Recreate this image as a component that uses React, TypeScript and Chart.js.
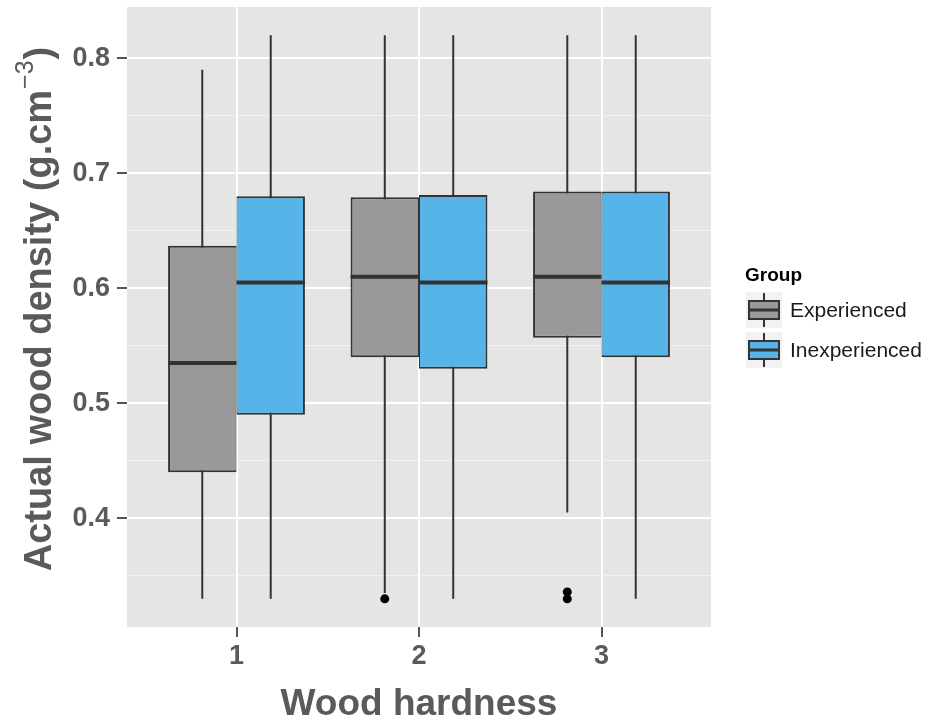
import React, { useEffect, useRef } from 'react';
import { Chart, registerables } from 'chart.js';

Chart.register(...registerables);

// ---------- data ----------
const categories = [1, 2, 3];
const groupNames = ['Experienced', 'Inexperienced'];
const groupColors = ['#999999', '#56B4E9'];

const expWhiskerLow = [0.33, 0.335, 0.405];
const expQ1 = [0.44, 0.54, 0.557];
const expMedian = [0.535, 0.61, 0.61];
const expQ3 = [0.637, 0.679, 0.684];
const expWhiskerHigh = [0.79, 0.82, 0.82];
const expOutliers = [[], [0.33], [0.336, 0.33]];

const inexpWhiskerLow = [0.33, 0.33, 0.33];
const inexpQ1 = [0.49, 0.53, 0.54];
const inexpMedian = [0.605, 0.605, 0.605];
const inexpQ3 = [0.68, 0.681, 0.684];
const inexpWhiskerHigh = [0.82, 0.82, 0.82];
const inexpOutliers: number[][] = [[], [], []];

const yMajorTicks = [0.4, 0.5, 0.6, 0.7, 0.8];
const yMinorTicks = [0.35, 0.45, 0.55, 0.65, 0.75];
const xTickLabels = ['1', '2', '3'];

const xTitle = 'Wood hardness';
const yTitleMain = 'Actual wood density (g.cm';
const yTitleSup = '\u22123';
const yTitleEnd = ')';
const legendTitle = 'Group';

// ---------- layout constants (ggplot-like) ----------
const BOX_WIDTH = 0.75; // dodge width
const DODGE = BOX_WIDTH / 4; // offset of each box centre from category
const FONT = '"Liberation Sans", Arial, Helvetica, sans-serif';
const TEXT_GREY = '#5a5a5a';
const LINE = '#333333';

const stats = [
  { lo: expWhiskerLow, q1: expQ1, med: expMedian, q3: expQ3, hi: expWhiskerHigh, out: expOutliers },
  { lo: inexpWhiskerLow, q1: inexpQ1, med: inexpMedian, q3: inexpQ3, hi: inexpWhiskerHigh, out: inexpOutliers },
];

const allValues = stats.flatMap((s) => [...s.lo, ...s.hi, ...s.out.flat()]);
const dataMin = Math.min(...allValues);
const dataMax = Math.max(...allValues);
const yPad = (dataMax - dataMin) * 0.05;
const yMin = dataMin - yPad;
const yMax = dataMax + yPad;
const xMin = Math.min(...categories) - 0.6;
const xMax = Math.max(...categories) + 0.6;

const isMajor = (v: number) => yMajorTicks.some((m) => Math.abs(m - v) < 1e-9);

function buildDatasets() {
  const ds: any[] = [];
  stats.forEach((s, g) => {
    const off = g === 0 ? -DODGE : DODGE;
    // whiskers
    ds.push({
      type: 'line',
      label: groupNames[g] + ' whiskers',
      data: categories.flatMap((c, i) => [
        { x: c + off, y: s.lo[i] },
        { x: c + off, y: s.hi[i] },
        { x: c + off, y: null },
      ]),
      borderColor: LINE,
      borderWidth: 2,
      pointRadius: 0,
      spanGaps: false,
      fill: false,
      order: 3,
    });
    // boxes
    ds.push({
      type: 'bar',
      label: groupNames[g],
      data: categories.map((c, i) => ({ x: c, y: [s.q1[i], s.q3[i]] })),
      backgroundColor: groupColors[g],
      borderColor: LINE,
      borderWidth: g === 0 ? { top: 2, bottom: 2, left: 2, right: 1 } : { top: 2, bottom: 2, left: 1, right: 2 },
      borderSkipped: false,
      categoryPercentage: BOX_WIDTH,
      barPercentage: 1,
      order: 2,
    });
    // medians
    ds.push({
      type: 'line',
      label: groupNames[g] + ' median',
      data: categories.flatMap((c, i) => [
        { x: c + off - DODGE, y: s.med[i] },
        { x: c + off + DODGE, y: s.med[i] },
        { x: c + off, y: null },
      ]),
      borderColor: LINE,
      borderWidth: 4,
      borderCapStyle: 'butt',
      pointRadius: 0,
      spanGaps: false,
      fill: false,
      order: 1,
    });
    // outliers
    ds.push({
      type: 'scatter',
      label: groupNames[g] + ' outliers',
      data: categories.flatMap((c, i) => s.out[i].map((v) => ({ x: c + off, y: v }))),
      backgroundColor: '#000000',
      borderWidth: 0,
      pointRadius: 4.5,
      order: 0,
    });
  });
  return ds;
}

const panelPlugin = {
  id: 'ggPanel',
  beforeDraw(chart: any) {
    const { ctx, chartArea } = chart;
    ctx.save();
    ctx.fillStyle = '#E5E5E5';
    ctx.fillRect(chartArea.left, chartArea.top, chartArea.right - chartArea.left, chartArea.bottom - chartArea.top);
    ctx.restore();
  },
};

const yTitlePlugin = {
  id: 'ggYTitle',
  afterDraw(chart: any) {
    const { ctx, chartArea } = chart;
    const cy = (chartArea.top + chartArea.bottom) / 2 - 8;
    const cx = 37;
    const mainFont = `bold 38px ${FONT}`;
    const supFont = `25px ${FONT}`;
    ctx.save();
    ctx.fillStyle = TEXT_GREY;
    ctx.font = mainFont;
    const w1 = ctx.measureText(yTitleMain).width;
    const w3 = ctx.measureText(yTitleEnd).width;
    ctx.font = supFont;
    const w2 = ctx.measureText(yTitleSup).width;
    const total = w1 + w2 + w3 + 2;
    ctx.translate(cx, cy);
    ctx.rotate(-Math.PI / 2);
    ctx.textBaseline = 'alphabetic';
    ctx.textAlign = 'left';
    const base = 14;
    let x = -total / 2;
    ctx.font = mainFont;
    ctx.fillText(yTitleMain, x, base);
    x += w1 + 1;
    ctx.font = supFont;
    ctx.fillText(yTitleSup, x, base - 18);
    x += w2 + 1;
    ctx.font = mainFont;
    ctx.fillText(yTitleEnd, x, base);
    ctx.restore();
  },
};

const legendPlugin = {
  id: 'ggLegend',
  afterDraw(chart: any) {
    const { ctx, chartArea } = chart;
    const cy = (chartArea.top + chartArea.bottom) / 2;
    const left = chartArea.right + 34;
    const key = 36;
    const items = chart.data.datasets.filter((d: any) => d.type === 'bar');
    ctx.save();
    ctx.fillStyle = '#000000';
    ctx.font = `bold 19px ${FONT}`;
    ctx.textBaseline = 'middle';
    ctx.textAlign = 'left';
    ctx.fillText(legendTitle, left, cy - 41);
    items.forEach((d: any, i: number) => {
      const kx = left + 1;
      const ky = cy - 25 + i * 40;
      ctx.fillStyle = '#F2F2F2';
      ctx.fillRect(kx, ky, key, key);
      // whisker
      ctx.strokeStyle = LINE;
      ctx.lineWidth = 2;
      ctx.beginPath();
      ctx.moveTo(kx + key / 2, ky + 1);
      ctx.lineTo(kx + key / 2, ky + key - 1);
      ctx.stroke();
      // box
      const bx = kx + 3;
      const bw = key - 6;
      const by = ky + 9;
      const bh = key - 18;
      ctx.fillStyle = d.backgroundColor;
      ctx.fillRect(bx, by, bw, bh);
      ctx.strokeRect(bx, by, bw, bh);
      ctx.lineWidth = 3;
      ctx.beginPath();
      ctx.moveTo(bx, by + bh / 2);
      ctx.lineTo(bx + bw, by + bh / 2);
      ctx.stroke();
      ctx.fillStyle = '#1a1a1a';
      ctx.font = `21px ${FONT}`;
      ctx.fillText(d.label, left + 45, ky + key / 2 + 1);
    });
    ctx.restore();
  },
};

export default function App() {
  const ref = useRef<HTMLCanvasElement>(null);

  useEffect(() => {
    if (!ref.current) return;
    const chart = new Chart(ref.current, {
      type: 'bar',
      data: { datasets: buildDatasets() },
      plugins: [panelPlugin, yTitlePlugin, legendPlugin],
      options: {
        animation: false,
        responsive: false,
        events: [],
        layout: { padding: { top: 7, right: 219, left: 0, bottom: 0 } },
        plugins: { legend: { display: false }, tooltip: { enabled: false }, title: { display: false } },
        scales: {
          x: {
            type: 'linear',
            min: xMin,
            max: xMax,
            offset: false,
            afterBuildTicks: (s: any) => {
              s.ticks = categories.map((v) => ({ value: v }));
            },
            afterFit: (s: any) => {
              s.height = 97;
              s.paddingLeft = 0;
              s.paddingRight = 0;
            },
            grid: {
              offset: false,
              color: '#FFFFFF',
              lineWidth: 2,
              drawTicks: true,
              tickLength: 10,
              tickColor: '#555555',
              tickWidth: 2,
            },
            border: { display: false },
            ticks: {
              autoSkip: false,
              maxRotation: 0,
              padding: 3,
              color: TEXT_GREY,
              font: { family: FONT, size: 27, weight: 'bold' },
              callback: (v: any) => xTickLabels[categories.indexOf(Number(v))] ?? '',
            },
            title: {
              display: true,
              text: xTitle,
              color: TEXT_GREY,
              font: { family: FONT, size: 37, weight: 'bold', lineHeight: 1.05 },
              padding: { top: 0, bottom: 0 },
            },
          },
          y: {
            type: 'linear',
            min: yMin,
            max: yMax,
            beginAtZero: false,
            afterBuildTicks: (s: any) => {
              s.ticks = [...yMinorTicks, ...yMajorTicks]
                .filter((v) => v >= yMin && v <= yMax)
                .sort((a, b) => a - b)
                .map((v) => ({ value: v }));
            },
            afterFit: (s: any) => {
              s.width = 127;
              s.paddingTop = 0;
              s.paddingBottom = 0;
            },
            grid: {
              color: (c: any) => (isMajor(c.tick.value) ? '#FFFFFF' : '#F2F2F2'),
              lineWidth: (c: any) => (isMajor(c.tick.value) ? 2 : 1),
              drawTicks: true,
              tickLength: 10,
              tickColor: (c: any) => (isMajor(c.tick.value) ? '#555555' : 'rgba(0,0,0,0)'),
              tickWidth: 2,
            },
            border: { display: false },
            ticks: {
              autoSkip: false,
              padding: 7,
              color: TEXT_GREY,
              font: { family: FONT, size: 27, weight: 'bold' },
              callback: (v: any) => (isMajor(Number(v)) ? Number(v).toFixed(1) : ''),
            },
          },
        },
      } as any,
    });
    return () => chart.destroy();
  }, []);

  return (
    <div style={{ position: 'absolute', left: 0, top: 0, width: 930, height: 724, background: '#ffffff' }}>
      <canvas ref={ref} width={930} height={724} style={{ display: 'block' }} />
    </div>
  );
}
